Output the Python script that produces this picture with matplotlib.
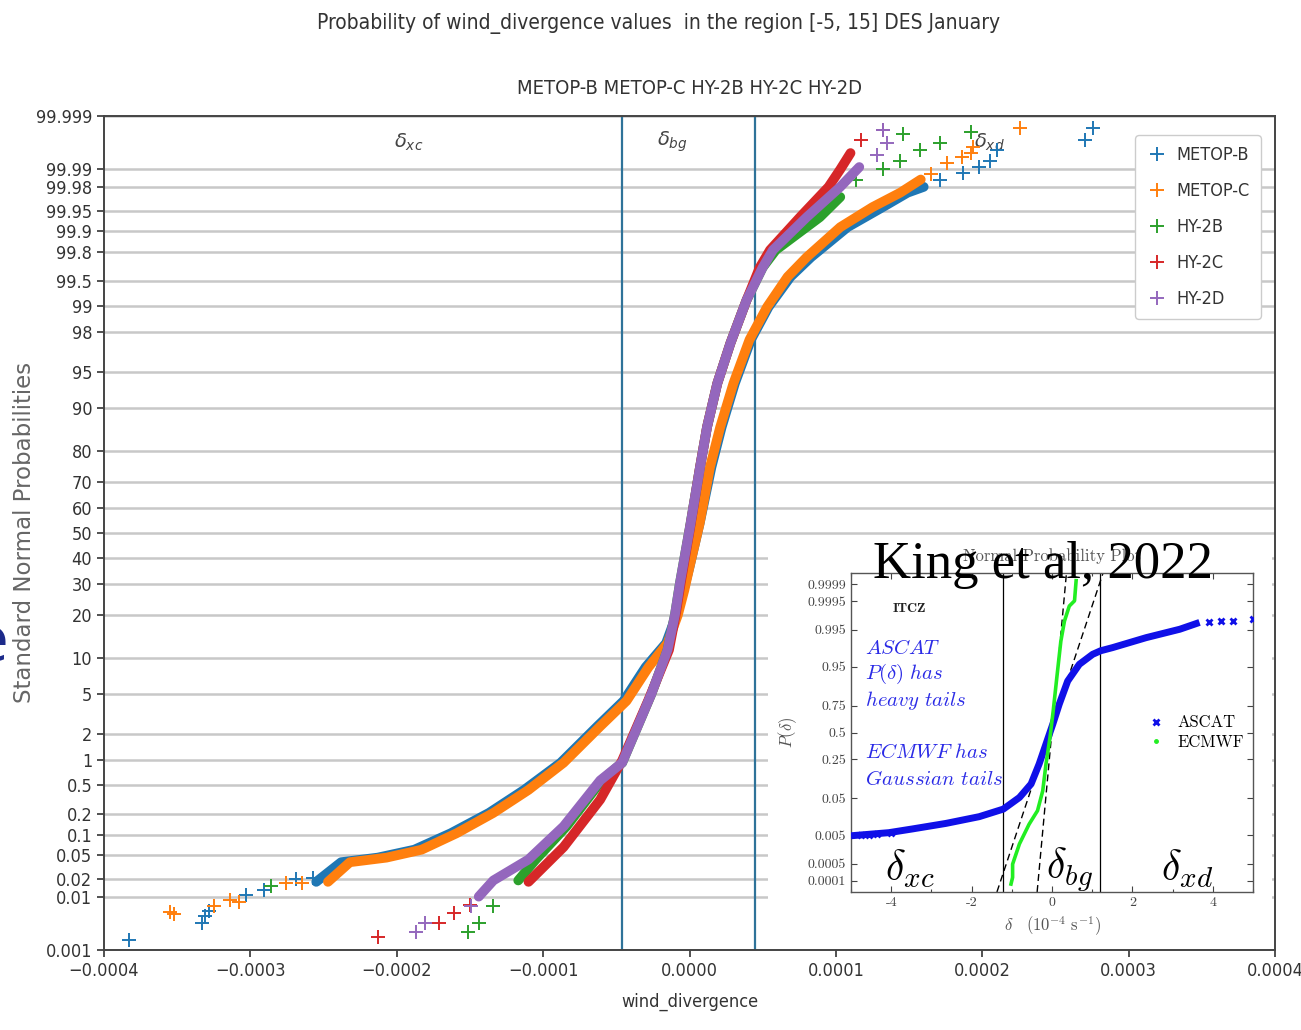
import numpy as np
import matplotlib
matplotlib.use("Agg")
import matplotlib.pyplot as plt
from matplotlib import font_manager
from matplotlib.patches import Rectangle
from statistics import NormalDist

# ---------------- data ----------------
# main plot: wind divergence (units of 1e-5 s^-1) vs cumulative probability (%)
series_names = ["METOP-B", "METOP-C", "HY-2B", "HY-2C", "HY-2D"]

mb_band_x = [-25.5, -23.8, -21.3, -18.8, -16.3, -13.7, -11.3, -8.8, -6.3, -4.5, -3.0, -1.6, -0.9, -0.4, 0.0, 0.7, 1.5, 2.2, 3.1, 4.2, 5.4, 6.9, 8.3, 10.8, 13.2, 14.9, 16.0]
mb_band_p = [0.018, 0.038, 0.045, 0.060, 0.107, 0.21, 0.43, 0.94, 2.4, 4.3, 8.5, 13.0, 20.0, 28.0, 36.4, 54.1, 75.0, 86.1, 93.7, 97.6, 98.96, 99.56, 99.76, 99.912, 99.957, 99.975, 99.980]
mb_tail_x = [-38.3, -33.3, -33.1, -32.8, -30.3, -29.1, -26.9, -25.7, 17.1, 18.7, 19.8, 20.5, 21.0, 27.0, 27.6]
mb_tail_p = [0.0016, 0.0033, 0.0045, 0.0055, 0.0108, 0.013, 0.020, 0.021, 99.9846, 99.9883, 99.9909, 99.993, 99.9955, 99.9971, 99.9983]

mc_band_x = [-24.7, -23.2, -20.7, -18.3, -15.9, -13.4, -11.0, -8.6, -6.1, -4.3, -2.8, -1.5, -0.8, -0.35, 0.0, 0.7, 1.4, 2.1, 3.0, 4.1, 5.3, 6.7, 8.0, 10.3, 12.5, 14.4, 15.8]
mc_band_p = [0.018, 0.038, 0.045, 0.060, 0.107, 0.21, 0.43, 0.94, 2.4, 4.3, 8.5, 13.0, 20.0, 28.0, 36.4, 54.1, 75.0, 86.1, 93.7, 97.6, 98.96, 99.56, 99.76, 99.912, 99.957, 99.975, 99.985]
mc_tail_x = [-35.5, -35.2, -32.5, -31.4, -30.8, -27.6, -26.5, 16.5, 17.6, 18.6, 19.2, 19.4, 22.6]
mc_tail_p = [0.0054, 0.0048, 0.0067, 0.0088, 0.0080, 0.017, 0.017, 99.988, 99.9923, 99.994, 99.9949, 99.996, 99.9983]

h2b_band_x = [-11.7, -10.5, -8.4, -6.0, -4.6, -2.6, -1.5, -1.0, -0.65, 0.03, 0.72, 1.2, 1.9, 2.8, 3.9, 5.0, 5.9, 8.9, 10.3]
h2b_band_p = [0.019, 0.042, 0.135, 0.57, 0.94, 5.0, 11.6, 20.0, 30.5, 52.4, 75.0, 86.1, 93.7, 97.4, 99.14, 99.67, 99.81, 99.938, 99.9705]
h2b_tail_x = [-28.6, -15.1, -14.4, -13.4, 11.4, 13.2, 14.4, 15.75, 17.1, 19.2, 14.6]
h2b_tail_p = [0.0153, 0.0022, 0.0033, 0.0067, 99.9846, 99.990, 99.993, 99.9956, 99.99667, 99.9979, 99.9978]

h2c_band_x = [-11.0, -8.6, -6.1, -4.6, -2.8, -1.4, -0.95, -0.6, 0.05, 0.72, 1.2, 1.9, 2.8, 3.9, 4.8, 5.5, 7.6, 9.5, 10.3, 11.0]
h2c_band_p = [0.018, 0.066, 0.32, 1.0, 4.4, 11.6, 20.0, 30.5, 52.4, 75.0, 86.1, 93.7, 97.4, 99.14, 99.67, 99.81, 99.94, 99.98, 99.990, 99.9949]
h2c_tail_x = [-21.3, -17.1, -16.1, -15.0, 11.7, 13.2]
h2c_tail_p = [0.0018, 0.0033, 0.0051, 0.0070, 99.9971, 99.9981]

h2d_band_x = [-14.4, -13.4, -11.0, -8.6, -6.1, -4.6, -2.6, -1.5, -1.0, -0.65, 0.03, 0.72, 1.2, 1.9, 2.8, 3.9, 5.0, 5.7, 8.0, 10.3, 11.6]
h2d_band_p = [0.010, 0.019, 0.042, 0.135, 0.57, 0.94, 5.0, 11.6, 20.0, 30.5, 52.4, 75.0, 86.1, 93.7, 97.4, 99.14, 99.67, 99.81, 99.938, 99.980, 99.9909]
h2d_tail_x = [-18.7, -18.1, -14.9, 12.8, 13.5, 13.2]
h2d_tail_p = [0.0022, 0.0033, 0.0067, 99.99445, 99.99667, 99.9981]

pct_ticks = [0.001, 0.01, 0.02, 0.05, 0.1, 0.2, 0.5, 1, 2, 5, 10, 20, 30, 40, 50, 60, 70,
             80, 90, 95, 98, 99, 99.5, 99.8, 99.9, 99.95, 99.98, 99.99, 99.999]
x_ticks = [-4e-4, -3e-4, -2e-4, -1e-4, 0.0, 1e-4, 2e-4, 3e-4, 4e-4]
x_tick_labels = ["\u22120.0004", "\u22120.0003", "\u22120.0002", "\u22120.0001", "0.0000",
                 "0.0001", "0.0002", "0.0003", "0.0004"]
region_bounds = [-4.6e-5, 4.5e-5]

# inset (King et al, 2022): delta in 1e-4 s^-1, probability as fraction
ascat_x = [-5.0, -4.06, -3.47, -2.64, -1.81, -1.21, -0.81, -0.52, -0.32, -0.15, 0.02, 0.18, 0.39, 0.68, 1.01, 1.21, 1.51, 2.34, 3.18, 3.67]
ascat_p = [0.0048, 0.0060, 0.0078, 0.0113, 0.0174, 0.0274, 0.0516, 0.0985, 0.2148, 0.386, 0.583, 0.761, 0.9015, 0.9564, 0.975, 0.9798, 0.9834, 0.9913, 0.9952, 0.99711]
ascat_tail_x = [-4.75, -4.55, -4.35, -4.0, 3.9, 4.2, 4.5, 5.0]
ascat_tail_p = [0.0050, 0.0051, 0.0053, 0.0058, 0.9972, 0.99735, 0.9975, 0.99774]
ecmwf_x = [-1.02, -0.98, -0.98, -0.81, -0.57, -0.36, -0.23, -0.15, -0.05, 0.03, 0.12, 0.22, 0.31, 0.43, 0.56, 0.60]
ecmwf_p = [0.000072, 0.00014, 0.00048, 0.0026, 0.0107, 0.025, 0.072, 0.214, 0.45, 0.706, 0.916, 0.989, 0.9974, 0.99924, 0.99952, 0.99993]
fit_lines_x = [[-0.37, 0.36], [-1.37, 1.27]]
fit_lines_z = [-4.0, 4.0]
inset_bounds = [-1.21, 1.20]
inset_pticks = [0.0001, 0.0005, 0.005, 0.05, 0.25, 0.5, 0.75, 0.95, 0.995, 0.9995, 0.9999]
inset_xticks = [-4, -2, 0, 2, 4]

# ---------------- helpers ----------------
nd = NormalDist()


def zq(p):
    return np.array([nd.inv_cdf(v) for v in p])


avail = {f.name for f in font_manager.fontManager.ttflist}
if "Liberation Sans Narrow" in avail:
    NARROW = dict(family="Liberation Sans Narrow")
else:
    NARROW = dict(family="DejaVu Sans", stretch="condensed")

colors = ["#1f77b4", "#ff7f0e", "#2ca02c", "#d62728", "#9467bd"]

fig = plt.figure(figsize=(13.01, 10.30), dpi=100)
W, H = 1301.0, 1030.0

ax = fig.add_axes([104 / W, 1 - 950 / H, (1275 - 104) / W, (950 - 116) / H])

bands = [(mb_band_x, mb_band_p, mb_tail_x, mb_tail_p),
         (mc_band_x, mc_band_p, mc_tail_x, mc_tail_p),
         (h2b_band_x, h2b_band_p, h2b_tail_x, h2b_tail_p),
         (h2c_band_x, h2c_band_p, h2c_tail_x, h2c_tail_p),
         (h2d_band_x, h2d_band_p, h2d_tail_x, h2d_tail_p)]

for (bx, bp, tx, tp), c, name in zip(bands, colors, series_names):
    ax.plot(np.array(bx) * 1e-5, zq(np.array(bp) / 100), "-", color=c, lw=7,
            solid_capstyle="round", solid_joinstyle="round", zorder=3)
    ax.plot(np.array(tx) * 1e-5, zq(np.array(tp) / 100), "+", color=c, ms=10, mew=1.4,
            ls="none", zorder=3, label=name)

for xb in region_bounds:
    ax.axvline(xb, color="#2f7399", lw=1.6, zorder=2)

ax.set_xlim(-4e-4, 4e-4)
ax.set_ylim(nd.inv_cdf(1e-5), nd.inv_cdf(1 - 1e-5))
ax.set_yticks(zq(np.array(pct_ticks) / 100))
ax.set_yticklabels([("%g" % v) for v in pct_ticks], **NARROW)
ax.set_xticks(x_ticks)
ax.set_xticklabels(x_tick_labels, **NARROW)
ax.tick_params(labelsize=13, colors="#333333", length=5, width=1.2)
ax.yaxis.grid(True, color="#c8c8c8", lw=1.8, zorder=0)
ax.set_axisbelow(True)
for s in ax.spines.values():
    s.set_color("#444444")
    s.set_linewidth(1.4)

ax.set_xlabel("wind_divergence", fontsize=13, labelpad=9, color="#333333", **NARROW)
fig.text(25 / W, 1 - 532 / H, "Standard Normal Probabilities", rotation=90, fontsize=16.5,
         color="#666666", ha="center", va="center")
ax.set_title("METOP-B METOP-C HY-2B HY-2C HY-2D", fontsize=14.5, pad=16, color="#333333", **NARROW)
fig.text(659 / W, 1 - 23 / H, "Probability of wind_divergence values  in the region [-5, 15] DES January",
         fontsize=15, ha="center", va="center", color="#333333", **NARROW)

for lbl, xv in [(r"$\delta_{xc}$", -19.2e-5), (r"$\delta_{bg}$", -1.2e-5), (r"$\delta_{xd}$", 20.5e-5)]:
    ax.text(xv, 4.0, lbl, fontsize=14, ha="center", va="center", color="#444444", zorder=2)

leg = ax.legend(loc="upper right", bbox_to_anchor=(0.9955, 0.988), prop=dict(size=13, **NARROW),
                labelspacing=1.0, handletextpad=0.5, handlelength=1.2, borderpad=0.6,
                framealpha=1, edgecolor="#cccccc", fancybox=True)
for t in leg.get_texts():
    t.set_color("#333333")

# blue letter cut at the left edge
fig.text(-28 / W, 1 - 645 / H, "e", fontsize=46, color="#1c2a8a", ha="left", va="center", family="Open Sans")

# ---------------- inset (pasted figure) ----------------
bg = Rectangle((768 / W, 1 - 945 / H), 504 / W, 400 / H, transform=fig.transFigure,
               facecolor="white", edgecolor="none", zorder=1)
fig.patches.append(bg)

ax2 = fig.add_axes([851 / W, 1 - 892 / H, (1253 - 851) / W, (892 - 573) / H], zorder=2)
ax2.plot(ascat_x, zq(ascat_p), "-", color="#1010e8", lw=5, solid_capstyle="butt", zorder=3)
ax2.plot(ascat_tail_x, zq(ascat_tail_p), "x", color="#1010e8", ms=5, mew=2, ls="none", zorder=3, label="ASCAT")
ax2.plot(ecmwf_x, zq(ecmwf_p), "-", color="#22ee22", lw=2.6, zorder=4)
ax2.plot([], [], ".", color="#22ee22", ms=5, label="ECMWF")
for lx in fit_lines_x:
    ax2.plot(lx, fit_lines_z, "--", color="black", lw=1, dashes=(5, 3), zorder=2)
for b in inset_bounds:
    ax2.axvline(b, color="black", lw=0.9, zorder=2)

ax2.set_xlim(-5, 5)
ax2.set_ylim(-4.0, 4.0)
ax2.set_yticks(zq(inset_pticks))
ax2.set_yticklabels([("%g" % v) for v in inset_pticks], family="cmr10")
ax2.set_xticks(inset_xticks)
ax2.set_xticklabels([str(v) for v in inset_xticks], family="cmr10")
ax2.set_xticks(np.arange(-5, 6, 1), minor=True)
ax2.tick_params(which="both", direction="in", top=True, right=True, labelsize=10,
                colors="#444444", length=4, width=0.8)
ax2.tick_params(which="minor", length=2.5)
for s in ax2.spines.values():
    s.set_color("#555555")
    s.set_linewidth(1.0)
ax2.set_xlabel(r"$\delta\quad(10^{-4}\ \mathrm{s}^{-1})$", fontsize=12, color="#555555",
               math_fontfamily="cm", labelpad=4)
ax2.set_ylabel(r"$P(\delta)$", fontsize=12, color="#555555", math_fontfamily="cm", labelpad=6)
ax2.text(0.5, 1.053, "Normal Probability Plot", transform=ax2.transAxes, ha="center", va="center",
         fontsize=12, color="#555555", family="cmr10")

ax2.text(-3.56, 3.09, "ITCZ", fontsize=10, ha="center", va="center", family="cmb10", color="#222222")
blue_lines = [(r"$\mathit{ASCAT}$", 2.13), (r"$P(\delta)\ \mathit{has}$", 1.46),
              (r"$\mathit{heavy\ tails}$", 0.79), (r"$\mathit{ECMWF\ has}$", -0.50),
              (r"$\mathit{Gaussian\ tails}$", -1.17)]
for txt, zz in blue_lines:
    ax2.text(-4.66, zz, txt, fontsize=15, ha="left", va="center", color="#2b2be6", math_fontfamily="cm")

for lbl, xv in [(r"$\delta_{xc}$", -3.53), (r"$\delta_{bg}$", 0.43), (r"$\delta_{xd}$", 3.35)]:
    ax2.text(xv, -3.43, lbl, fontsize=30, ha="center", va="center", color="black", math_fontfamily="cm")

lg2 = ax2.legend(loc="center left", bbox_to_anchor=(0.70, 0.50), frameon=False,
                 prop=dict(family="cmr10", size=12), labelspacing=0.25, handletextpad=0.8,
                 handlelength=1.0)

fig.text(1043 / W, 1 - 578 / H, "King et al, 2022", fontsize=38, family="Liberation Serif",
         ha="center", va="baseline", color="black", zorder=5)

fig.savefig("out.png", dpi=100)
